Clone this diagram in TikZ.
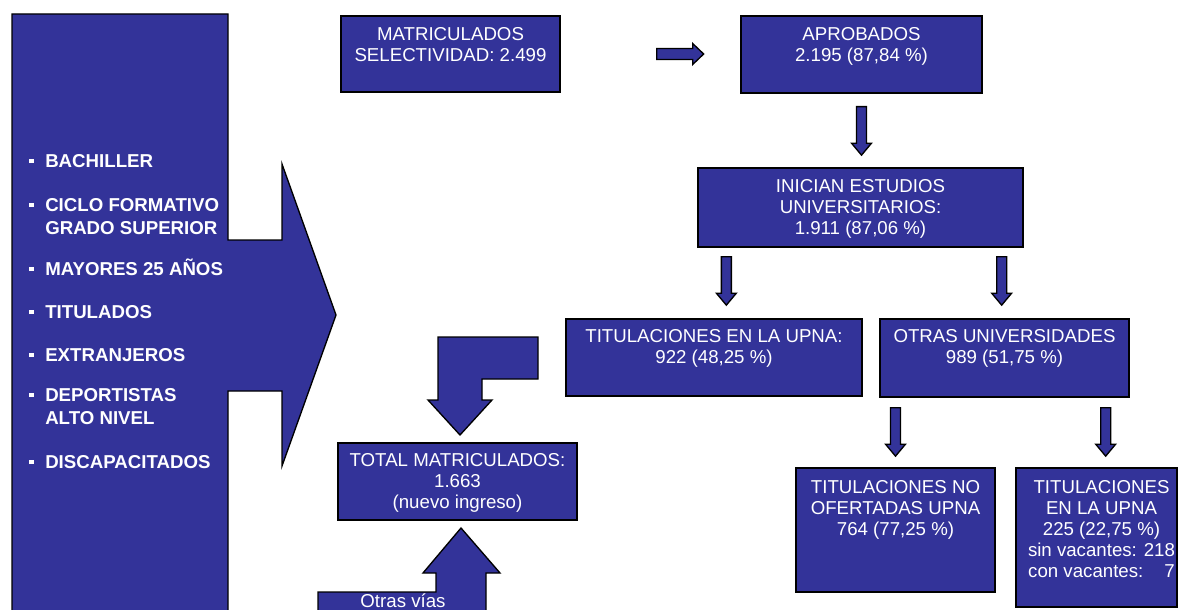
\documentclass[tikz,border=0pt]{standalone}
\usepackage{fontspec}
\setmainfont{Liberation Sans}
\usetikzlibrary{positioning,calc}

\definecolor{azulcaja}{RGB}{51,51,153}

\newcommand{\vineta}{\rule{0pt}{12.5pt}\makebox[12pt][l]{\rule[3.3pt]{3.2pt}{3.2pt}}}
\newcommand{\sangria}{\hspace*{12pt}}
% flecha hacia abajo desde su punto superior
\newcommand{\flechabajo}[1]{%
  \draw[bloque] (#1) ++(-5,0) -- ++(10,0) -- ++(0,36.5) -- ++(5,0) -- ++(-10,12) -- ++(-10,-12) -- ++(5,0) -- cycle;}

\tikzset{
  bloque/.style={draw=black, fill=azulcaja, line width=1pt, line join=miter},
  caja/.style={bloque, rectangle, inner sep=0pt},
  textocaja/.style={text=white, align=center, inner sep=0pt, font=\fontsize{14}{15.75}\selectfont},
  lista/.style={text=white, align=left, inner sep=0pt, anchor=north west, font=\bfseries\fontsize{14}{17.25}\selectfont},
}

\begin{document}
\begin{tikzpicture}[x=0.75pt,y=-0.75pt]
\useasboundingbox (0,0) rectangle (1178,610);

%BLOQUE IZQUIERDO
\draw[bloque] (12,615) -- (12,14) -- (228,14) -- (228,240) -- (282,240) -- (282,164) -- (336,315) -- (282,466) -- (282,391) -- (228,391) -- (228,615) -- cycle;
\foreach \y/\txt in {161/{\vineta BACHILLER},
                     205/{\vineta CICLO FORMATIVO\\\sangria GRADO SUPERIOR},
                     269/{\vineta MAYORES 25 AÑOS},
                     312/{\vineta TITULADOS},
                     355/{\vineta EXTRANJEROS},
                     395/{\vineta DEPORTISTAS\\\sangria ALTO NIVEL},
                     462/{\vineta DISCAPACITADOS}}
  \node[lista] (item\y) at (29,\y-10.4) {\txt};

%CAJAS
\node[caja, minimum width=164.25pt, minimum height=57pt] (matric) at (450.5,54) {};
\node[caja, minimum width=180.75pt, minimum height=57.75pt] (aprob) at (861.5,54.5) {};
\node[caja, minimum width=243.75pt, minimum height=59.25pt] (inicia) at (860.5,207.5) {};
\node[caja, minimum width=222pt, minimum height=57.75pt] (titupna) at (714,357.5) {};
\node[caja, minimum width=186.75pt, minimum height=58.5pt] (otras) at (1004.5,358) {};
\node[caja, minimum width=149.25pt, minimum height=93pt] (noofer) at (895.5,530) {};
\node[caja, minimum width=120.75pt, minimum height=104.25pt] (enupna) at (1096.5,537.5) {};
\node[caja, minimum width=179.25pt, minimum height=57.75pt] (total) at (457.5,481.5) {};

%TEXTOS
\node[textocaja, below=9.2pt of matric.north] {MATRICULADOS\\SELECTIVIDAD: 2.499};
\node[textocaja, below=9.2pt of aprob.north] {APROBADOS\\2.195 (87,84 \%)};
\node[textocaja, below=9.2pt of inicia.north] {INICIAN ESTUDIOS\\UNIVERSITARIOS:\\1.911 (87,06 \%)};
\node[textocaja, below=8.5pt of titupna.north] {TITULACIONES EN LA UPNA:\\922 (48,25 \%)};
\node[textocaja, below=8.3pt of otras.north] {OTRAS UNIVERSIDADES\\989 (51,75 \%)};
\node[textocaja, below=10pt of noofer.north] {TITULACIONES NO\\OFERTADAS UPNA\\764 (77,25 \%)};
\node[textocaja, below=10pt of enupna.north, xshift=3.75pt] {TITULACIONES\\EN LA UPNA\\225 (22,75 \%)\\sin vacantes: 218\\con vacantes: \phantom{2}\hspace{2.8pt}7};
\node[textocaja, below=8.5pt of total.north] {TOTAL MATRICULADOS:\\1.663\\(nuevo ingreso)};

%FLECHAS
\draw[bloque] ($(matric.east)+(96,-5.5)$) -- ++(36,0) -- ++(0,-5) -- ++(11,10.5) -- ++(-11,10.5) -- ++(0,-5) -- ++(-36,0) -- cycle;
\flechabajo{$(aprob.south)+(0,13)$}
\flechabajo{$(inicia.south west)+(29,9)$}
\flechabajo{$(inicia.south east)+(-22,9)$}
\flechabajo{$(noofer.north |- otras.south)+(0,10)$}
\flechabajo{$(otras.south east)+(-24,10)$}
\draw[bloque] (438,337) -- (538,337) -- (538,379) -- (482,379) -- (482,400) -- (492,400) -- (460,435) -- (428,400) -- (438,400) -- cycle;
\draw[bloque] (318,615) -- (318,592) -- (436,592) -- (436,573) -- (423,573) -- (461,528) -- (500,573) -- (486,573) -- (486,615) -- cycle;
\node[textocaja, anchor=base] (otrasvias) at (403,607) {Otras vías};
\end{tikzpicture}
\end{document}
